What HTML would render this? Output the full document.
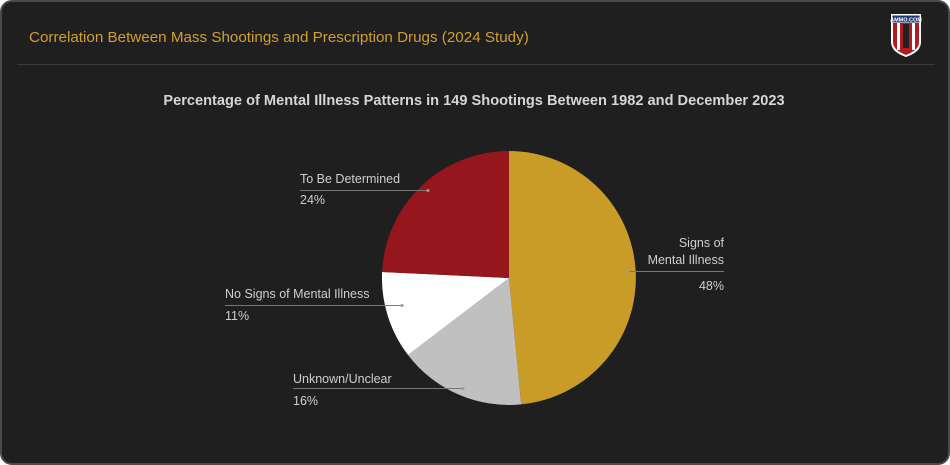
<!DOCTYPE html>
<html><head><style>
html,body{margin:0;padding:0;background:#fff;}
.card{position:absolute;left:0;top:0;width:946px;height:461px;border:2px solid #4a4a4a;border-radius:12px;background:#1f1f1f;overflow:hidden;font-family:"Liberation Sans",sans-serif;}
</style></head><body>
<div class="card">
<svg width="946" height="461" viewBox="2 2 946 461" xmlns="http://www.w3.org/2000/svg" style="position:absolute;left:0;top:0">
<text x="29" y="42" font-size="15.2" fill="#d1a02a" font-family="Liberation Sans,sans-serif">Correlation Between Mass Shootings and Prescription Drugs (2024 Study)</text>
<line x1="17" y1="64.5" x2="935" y2="64.5" stroke="#3a3a3a" stroke-width="1"/>
<g transform="translate(891,14)">
<path d="M0,0 H30 V28 Q30,38 15,43 Q0,38 0,28 Z" fill="#fff"/>
<rect x="1.5" y="1.5" width="27" height="7" fill="#1c3a7a"/>
<text x="15" y="7.5" font-size="5.5" fill="#fff" text-anchor="middle" font-weight="bold" font-family="Liberation Sans,sans-serif">AMMO.COM</text>
<path d="M2,9 H28 V28 Q28,36 15,41 Q2,36 2,28 Z" fill="#b01c22"/>
<rect x="6" y="9" width="3" height="27" fill="#fff"/><rect x="21" y="9" width="3" height="27" fill="#fff"/>
<rect x="12" y="10" width="6" height="24" fill="#222"/>
</g>
<text x="474" y="105" font-size="14.6" font-weight="bold" fill="#d6d6d6" text-anchor="middle" font-family="Liberation Sans,sans-serif">Percentage of Mental Illness Patterns in 149 Shootings Between 1982 and December 2023</text>
<path d="M509,278 L509,151 A127,127 0 0 1 521.2,404.4 Z" fill="#c99b27"/>
<path d="M509,278 L521.2,404.4 A127,127 0 0 1 408,355 Z" fill="#c0c0c0"/>
<path d="M509,278 L408,355 A127,127 0 0 1 382.1,272 Z" fill="#ffffff"/>
<path d="M509,278 L382.1,272 A127,127 0 0 1 509,151 Z" fill="#96161e"/>
<g font-family="Liberation Sans,sans-serif" font-size="12.5" fill="#cfcfcf">
<text x="300" y="183">To Be Determined</text>
<line x1="300" y1="190.5" x2="428" y2="190.5" stroke="#777"/><circle cx="428" cy="190.5" r="1.5" fill="#999"/>
<text x="300" y="204">24%</text>
<text x="724" y="247" text-anchor="end">Signs of</text>
<text x="724" y="264" text-anchor="end">Mental Illness</text>
<line x1="628" y1="271.5" x2="724" y2="271.5" stroke="#777"/><circle cx="628" cy="271.5" r="1.5" fill="#999"/>
<text x="724" y="290" text-anchor="end">48%</text>
<text x="225" y="298">No Signs of Mental Illness</text>
<line x1="225" y1="305.5" x2="402" y2="305.5" stroke="#777"/><circle cx="402" cy="305.5" r="1.5" fill="#999"/>
<text x="225" y="320">11%</text>
<text x="293" y="383">Unknown/Unclear</text>
<line x1="293" y1="388.5" x2="463" y2="388.5" stroke="#777"/><circle cx="463" cy="388.5" r="1.5" fill="#999"/>
<text x="293" y="405">16%</text>
</g>
</svg>
</div>
</body></html>
